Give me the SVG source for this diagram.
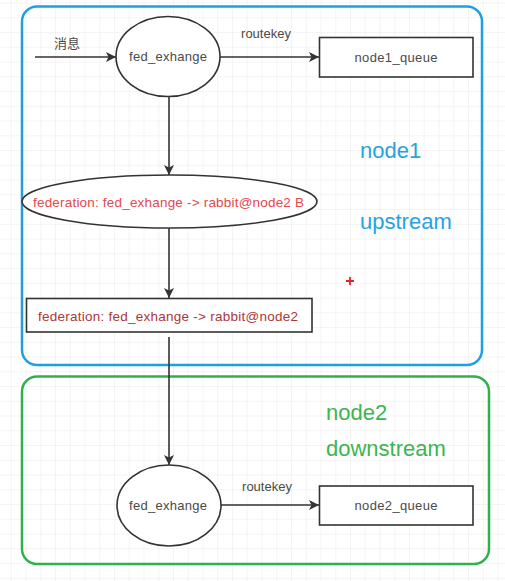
<svg xmlns="http://www.w3.org/2000/svg" width="505" height="581" viewBox="0 0 505 581">
<style>
.node{fill:#fff;stroke:#333;stroke-width:1.6}
.lbl{font-family:"Liberation Sans","Noto Sans CJK SC",sans-serif;font-size:13px;fill:#4a4a4a;text-anchor:middle}
.edge{stroke:#333;stroke-width:1.6;fill:none;marker-end:url(#arr)}
.red{font-family:"Liberation Sans",sans-serif;font-size:13.5px;text-anchor:middle}
.big{font-family:"Liberation Sans",sans-serif;font-size:22px}
</style>
<defs>
<pattern id="grid" patternUnits="userSpaceOnUse" x="10.75" y="2.55" width="14.75" height="14.75">
<path d="M0,0H14.75M0,0V14.75" stroke="#e9e9e9" stroke-width="1" fill="none"/>
</pattern>
<marker id="arr" markerUnits="userSpaceOnUse" markerWidth="12" markerHeight="12" refX="10" refY="5" orient="auto">
<path d="M0,0 L10,5 L0,10 L2.5,5 z" fill="#333"/>
</marker>
</defs>
<rect width="505" height="581" fill="#fff"/>
<rect width="505" height="581" fill="url(#grid)"/>
<g id="node1-container">
<rect x="22" y="6.5" width="460" height="358.5" rx="15" fill="none" stroke="#1ea0e0" stroke-width="2.5"/>
<text class="big" x="360" y="158" fill="#27a3dc">node1</text>
<text class="big" x="360" y="229" fill="#27a3dc">upstream</text>
</g>
<g id="node2-container">
<rect x="22" y="376.5" width="467" height="187.5" rx="15" fill="none" stroke="#2eb14b" stroke-width="2.5"/>
<text class="big" x="326" y="420" fill="#3cb550">node2</text>
<text class="big" x="326" y="456" fill="#3cb550">downstream</text>
</g>
<g id="connectors">
<path class="edge" d="M35,57H116"/>
<path class="edge" d="M220,57H319"/>
<path class="edge" d="M169,97V175"/>
<path class="edge" d="M169,228V298"/>
<path class="edge" d="M169,337V465"/>
<path class="edge" d="M221,505H319"/>
<text class="lbl" x="67" y="48">消息</text>
<text class="lbl" x="266" y="38">routekey</text>
<text class="lbl" x="267" y="491">routekey</text>
</g>
<g id="fed_exhange1">
<ellipse class="node" cx="168" cy="56.5" rx="52" ry="40"/>
<text class="lbl" x="168" y="61" textLength="78">fed_exhange</text>
</g>
<g id="node1_queue">
<rect class="node" x="319.5" y="37.5" width="153.5" height="39.5"/>
<text class="lbl" x="396" y="61.5" textLength="83">node1_queue</text>
</g>
<g id="federation-ellipse">
<ellipse class="node" cx="169.5" cy="201.5" rx="147.5" ry="26.5"/>
<text class="red" x="168.5" y="206.5" fill="#e5474c" textLength="271">federation: fed_exhange -&gt; rabbit@node2 B</text>
</g>
<g id="federation-rect">
<rect class="node" x="26.5" y="298.5" width="285.5" height="33.5"/>
<text class="red" x="168" y="320.5" fill="#ad3737" textLength="260">federation: fed_exhange -&gt; rabbit@node2</text>
</g>
<g id="fed_exhange2">
<ellipse class="node" cx="169" cy="505.5" rx="52" ry="40.5"/>
<text class="lbl" x="168" y="510" textLength="78">fed_exhange</text>
</g>
<g id="node2_queue">
<rect class="node" x="319.5" y="486" width="153.5" height="39"/>
<text class="lbl" x="396" y="510" textLength="83">node2_queue</text>
</g>
<g id="marker-plus">
<path d="M346,281H354M350,277V285" stroke="#e8202a" stroke-width="1.8"/>
</g>
</svg>
